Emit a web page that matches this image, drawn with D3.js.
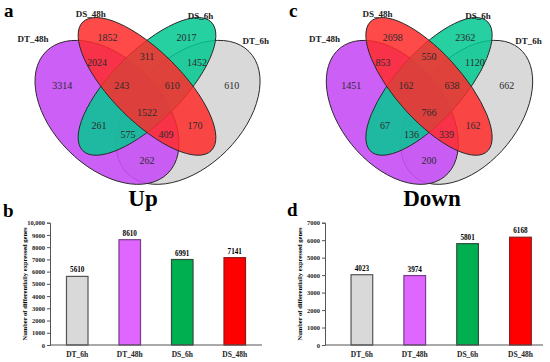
<!DOCTYPE html>
<html>
<head>
<meta charset="utf-8">
<script src="https://cdn.jsdelivr.net/npm/d3@7/dist/d3.min.js"></script>
<style>
  body { margin: 0; background: #fff; }
  svg { display: block; font-family: "Liberation Serif", "Times New Roman", serif; }
  .num { font-size: 10px; fill: #2b2b2b; text-anchor: middle; }
  .setlab { font-size: 9px; font-weight: bold; fill: #222; text-anchor: middle; }
  .axis path, .axis line { stroke: #555; }
</style>
</head>
<body>
<svg id="chart" width="550" height="362"></svg>
<script>
// venn sets and region counts
const sets = ["DT_48h", "DS_48h", "DS_6h", "DT_6h"];
const regionKeys = ["A", "B", "C", "D", "AB", "BC", "CD", "ABC", "BCD", "ABCD", "AC", "BD", "ACD", "ABD", "AD"];
const upRegions = [3314, 1852, 2017, 610, 2024, 311, 1452, 243, 610, 1522, 261, 170, 575, 409, 262];
const downRegions = [1451, 2698, 2362, 662, 853, 550, 1120, 162, 638, 766, 67, 162, 136, 339, 200];

// bar charts
const samples = ["DT_6h", "DT_48h", "DS_6h", "DS_48h"];
const upTotals = [5610, 8610, 6991, 7141];
const downTotals = [4023, 3974, 5801, 6168];
const upTicks = [0, 1000, 2000, 3000, 4000, 5000, 6000, 7000, 8000, 9000, 10000];
const downTicks = [0, 1000, 2000, 3000, 4000, 5000, 6000, 7000];

// quad venn layout (unit coords)
const ellipses = [
    { set: "DT_48h", cx: 0.349, cy: 0.541, rx: 0.325, ry: 0.205, rot: 45, fill: "#c64ff5", op: 0.9 },
    { set: "DT_6h", cx: 0.655, cy: 0.541, rx: 0.325, ry: 0.205, rot: -45, fill: "#d9d9d9", op: 1 },
    { set: "DS_6h", cx: 0.5, cy: 0.443, rx: 0.343, ry: 0.132, rot: -45, fill: "#00c890", op: 0.85 },
    { set: "DS_48h", cx: 0.5, cy: 0.443, rx: 0.343, ry: 0.132, rot: 45, fill: "#ff2a2a", op: 0.85 }
];
const drawOrder = ["DT_6h", "DT_48h", "DS_6h", "DS_48h"];
const regionPos = {
    A: [0.18, 0.438], B: [0.351, 0.257], C: [0.649, 0.257], D: [0.82, 0.438],
    AB: [0.311, 0.351], BC: [0.5, 0.332], CD: [0.689, 0.351],
    ABC: [0.405, 0.438], BCD: [0.595, 0.438], ABCD: [0.5, 0.54],
    AC: [0.319, 0.589], BD: [0.681, 0.589], ACD: [0.428, 0.626], ABD: [0.572, 0.626],
    AD: [0.5, 0.721]
};
const setLabelPos = { DT_48h: [0.07, 0.262], DS_48h: [0.288, 0.168], DS_6h: [0.702, 0.178], DT_6h: [0.91, 0.27] };

const svg = d3.select("#chart");
svg.append("rect").attr("width", 550).attr("height", 362).attr("fill", "#fff");

function drawVenn(values, x0, sx, y0, sy, title, titleX) {
    const x = d3.scaleLinear().domain([0, 1]).range([x0, x0 + sx]);
    const y = d3.scaleLinear().domain([0, 1]).range([y0, y0 + sy]);
    const g = svg.append("g");
    const shapes = g.append("g")
        .attr("transform", `translate(${x0},${y0}) scale(${sx},${sy})`);
    drawOrder.forEach(name => {
        const e = ellipses.find(d => d.set === name);
        shapes.append("ellipse")
            .attr("transform", `translate(${e.cx},${e.cy}) rotate(${e.rot})`)
            .attr("rx", e.rx)
            .attr("ry", e.ry)
            .attr("fill", e.fill)
            .attr("fill-opacity", e.op)
            .attr("stroke", "#2a2a2a")
            .attr("stroke-width", 1)
            .attr("vector-effect", "non-scaling-stroke");
    });
    g.selectAll("text.num")
        .data(regionKeys.map((k, i) => ({ key: k, value: values[i] })))
        .join("text")
        .attr("class", "num")
        .attr("x", d => x(regionPos[d.key][0]))
        .attr("y", d => y(regionPos[d.key][1]))
        .attr("dy", "0.35em")
        .text(d => d.value);
    g.selectAll("text.setlab")
        .data(sets)
        .join("text")
        .attr("class", "setlab")
        .attr("x", d => x(setLabelPos[d][0]))
        .attr("y", d => y(setLabelPos[d][1]))
        .attr("dy", "0.35em")
        .text(d => d);
    g.append("text")
        .attr("x", titleX)
        .attr("y", 206)
        .attr("text-anchor", "middle")
        .style("font-size", "23px")
        .style("font-weight", "bold")
        .text(title);
}

function drawBars(values, ticks, maxV, left, right, align, po, titleX) {
    const colors = ["#d9d9d9", "#df66ff", "#00b050", "#ff0000"];
    const strokes = ["#555", "#7a3d8a", "#2f4f3a", "#8b1a1a"];
    const x = d3.scaleBand().domain(samples).range([left, right])
        .paddingInner(0.59).paddingOuter(po).align(align);
    const y = d3.scaleLinear().domain([0, maxV]).range([345, 222.7]);
    const g = svg.append("g");
    const data = samples.map((s, i) => ({ s: s, v: values[i], i: i }));

    g.selectAll("rect.bar")
        .data(data)
        .join("rect")
        .attr("class", "bar")
        .attr("x", d => x(d.s))
        .attr("y", d => y(d.v))
        .attr("width", x.bandwidth())
        .attr("height", d => y(0) - y(d.v))
        .attr("fill", d => colors[d.i])
        .attr("stroke", d => strokes[d.i])
        .attr("stroke-width", 1.2);

    g.selectAll("text.val")
        .data(data)
        .join("text")
        .attr("class", "val")
        .attr("x", d => x(d.s) + x.bandwidth() / 2)
        .attr("y", d => y(d.v) - 4)
        .attr("text-anchor", "middle")
        .style("font-size", "7.2px")
        .style("font-weight", "bold")
        .text(d => d.v);

    const ya = g.append("g")
        .attr("class", "axis")
        .attr("transform", `translate(${left},0)`)
        .call(d3.axisLeft(y).tickValues(ticks).tickSize(3).tickPadding(2)
            .tickFormat(d => d >= 10000 ? d3.format(",")(d) : d));
    ya.attr("font-family", null);
    ya.selectAll("text")
        .style("font-family", "'Liberation Serif', serif")
        .style("font-weight", "bold")
        .style("font-size", "6.5px")
        .attr("fill", "#222");

    const xa = g.append("g")
        .attr("class", "axis")
        .attr("transform", "translate(0,345)")
        .call(d3.axisBottom(x).tickSize(0).tickPadding(7));
    xa.attr("font-family", null);
    xa.select(".domain").attr("d", `M${left},0H${right}`);
    xa.selectAll("text")
        .style("font-family", "'Liberation Serif', serif")
        .style("font-weight", "bold")
        .style("font-size", "7.5px")
        .attr("fill", "#222");

    g.append("text")
        .attr("transform", `translate(${titleX},284) rotate(-90)`)
        .attr("text-anchor", "middle")
        .attr("dy", "0.35em")
        .style("font-size", "6.5px")
        .style("font-weight", "bold")
        .text("Number of differentially expressed genes");
}

drawVenn(upRegions, 14.5, 265, -31, 265, "Up", 143);
drawVenn(downRegions, 307.5, 243, -31, 265, "Down", 432);
drawBars(upTotals, upTicks, 10000, 50, 262, 0.5, 0.314, 25);
drawBars(downTotals, downTicks, 7000, 325, 543, 0.69, 0.357, 300);

// panel letters
const letters = [["a", 4, 17], ["c", 289, 17], ["b", 3, 217], ["d", 287, 216]];
svg.selectAll("text.letter")
    .data(letters)
    .join("text")
    .attr("class", "letter")
    .attr("x", d => d[1])
    .attr("y", d => d[2])
    .style("font-size", "19px")
    .style("font-weight", "bold")
    .text(d => d[0]);
</script>
</body>
</html>
